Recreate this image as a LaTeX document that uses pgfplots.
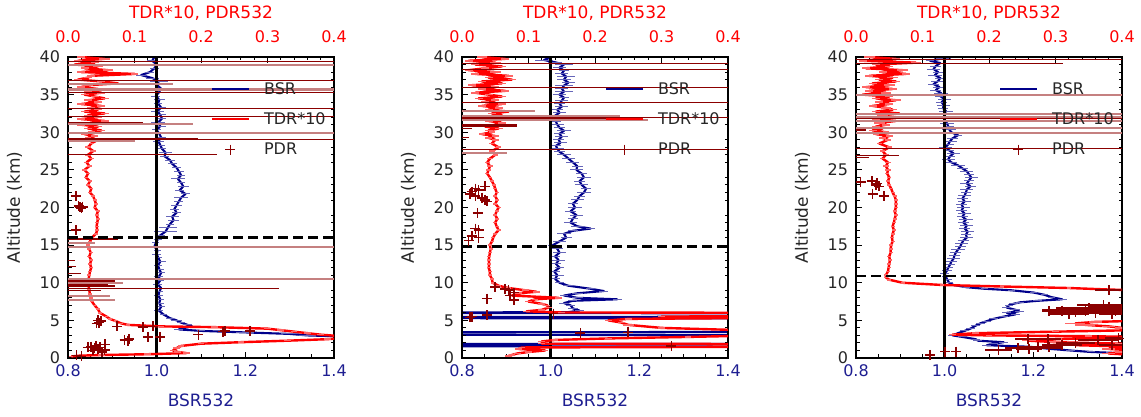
\documentclass[border=0pt]{standalone}
\usepackage{pgfplots}
\pgfplotsset{compat=1.18}
\usepackage{pgfplotstable}
\usepackage{fontspec}
\setmainfont{DejaVu Sans}
\definecolor{bsrblue}{RGB}{0,0,139}
\definecolor{bsrlab}{RGB}{30,30,145}
\definecolor{pdrred}{RGB}{139,0,0}
\definecolor{txt}{RGB}{38,38,38}
\newcommand{\tkfont}{\fontsize{16}{19}\selectfont}

% ---------------- Panel 1 ----------------
\pgfplotstableread[row sep=\\]{
a v e\\
40.0 0.995 0.01\\ 39.5 0.99 0.012\\ 39.0 1.0 0.015\\ 38.5 0.995 0.01\\ 38.0 0.985 0.01\\
37.6 0.965 0.012\\ 37.2 0.99 0.015\\ 36.8 1.005 0.02\\ 36.3 1.0 0.015\\ 35.8 1.01 0.01\\
35.3 1.005 0.015\\ 34.8 0.998 0.01\\ 34.3 1.006 0.012\\ 33.8 1.003 0.01\\ 33.3 1.01 0.01\\
32.8 1.002 0.015\\ 32.3 1.008 0.012\\ 31.8 1.012 0.01\\ 31.3 1.003 0.015\\ 30.8 1.008 0.012\\
30.3 1.0 0.01\\ 29.8 1.006 0.015\\ 29.3 1.01 0.01\\ 28.8 1.004 0.012\\ 28.3 1.008 0.01\\
27.8 1.012 0.01\\ 27.3 1.02 0.015\\ 26.8 1.018 0.01\\ 26.3 1.03 0.012\\ 25.8 1.035 0.01\\
25.3 1.045 0.01\\ 24.8 1.05 0.012\\ 24.3 1.055 0.01\\ 23.8 1.048 0.015\\ 23.3 1.055 0.01\\
22.8 1.06 0.012\\ 22.3 1.052 0.01\\ 21.8 1.065 0.01\\ 21.3 1.055 0.015\\ 20.8 1.05 0.01\\
20.3 1.045 0.012\\ 19.8 1.04 0.01\\ 19.3 1.045 0.01\\ 18.8 1.035 0.015\\ 18.3 1.038 0.012\\
17.8 1.03 0.01\\ 17.3 1.025 0.02\\ 16.8 1.02 0.025\\ 16.3 1.008 0.01\\ 15.8 1.003 0.01\\
15.3 0.998 0.008\\ 14.8 0.995 0.01\\ 14.3 1.002 0.008\\ 13.8 1.0 0.01\\ 13.3 1.004 0.008\\
12.8 1.008 0.012\\ 12.3 1.003 0.008\\ 11.8 1.006 0.01\\ 11.3 1.01 0.008\\ 10.8 1.005 0.01\\
10.3 1.008 0.008\\ 9.8 1.002 0.01\\ 9.3 1.01 0.012\\ 8.8 1.006 0.008\\ 8.3 1.004 0.01\\
7.8 1.008 0.008\\ 7.3 1.006 0.01\\ 6.8 1.01 0.008\\ 6.3 1.005 0.01\\ 5.8 1.015 0.008\\
5.3 1.03 0.01\\ 5.0 1.045 0.012\\ 4.7 1.055 0.01\\ 4.4 1.07 0.01\\ 4.2 1.08 0.01\\
4.0 1.06 0.01\\ 3.8 1.05 0.01\\ 3.6 1.1 0.01\\ 3.4 1.2 0.02\\ 3.2 1.3 0.02\\
3.0 1.34 0.02\\ 2.8 1.45 0.02\\ 2.5 1.6 0\\ 1.0 1.6 0\\ 0.3 1.5 0\\
}\bsrA
\pgfplotstableread[row sep=\\]{
a v e\\
40.0 0.02 0.006\\ 39.75 0.055 0.008\\ 39.5 0.015 0.006\\ 39.25 0.04 0.006\\ 39.0 0.01 0.006\\
38.75 0.045 0.008\\ 38.5 0.025 0.006\\ 38.25 0.06 0.008\\ 38.0 0.02 0.006\\ 37.75 0.1 0.006\\
37.5 0.035 0.006\\ 37.25 0.03 0.006\\ 37.0 0.015 0.006\\ 36.75 0.05 0.006\\ 36.5 0.075 0.006\\
36.25 0.03 0.008\\ 36.0 0.02 0.006\\ 35.75 0.045 0.006\\ 35.5 0.03 0.006\\ 35.25 0.05 0.006\\
35.0 0.025 0.006\\ 34.75 0.04 0.006\\ 34.5 0.055 0.006\\ 34.25 0.03 0.006\\ 34.0 0.045 0.006\\
33.75 0.02 0.006\\ 33.5 0.05 0.006\\ 33.25 0.035 0.006\\ 33.0 0.045 0.006\\ 32.75 0.025 0.006\\
32.5 0.055 0.006\\ 32.25 0.03 0.006\\ 32.0 0.045 0.006\\ 31.75 0.02 0.006\\ 31.5 0.055 0.006\\
31.25 0.035 0.006\\ 31.0 0.02 0.006\\ 30.75 0.045 0.006\\ 30.5 0.03 0.006\\ 30.25 0.05 0.006\\
30.0 0.035 0.005\\ 29.75 0.025 0.005\\ 29.5 0.04 0.005\\ 29.25 0.03 0.005\\ 29.0 0.045 0.005\\
28.5 0.035 0.004\\ 28.0 0.03 0.004\\ 27.5 0.038 0.004\\ 27.0 0.03 0.004\\ 26.5 0.035 0.004\\
26.0 0.028 0.004\\ 25.5 0.032 0.004\\ 25.0 0.025 0.004\\ 24.5 0.03 0.003\\ 24.0 0.027 0.003\\
23.5 0.033 0.003\\ 23.0 0.03 0.003\\ 22.5 0.035 0.003\\ 22.0 0.033 0.003\\ 21.5 0.038 0.003\\
21.0 0.04 0.003\\ 20.5 0.042 0.003\\ 20.0 0.04 0.003\\ 19.5 0.045 0.003\\ 19.0 0.043 0.003\\
18.5 0.045 0.003\\ 18.0 0.044 0.003\\ 17.5 0.043 0.003\\ 17.0 0.044 0.003\\ 16.5 0.042 0.003\\
16.0 0.036 0.003\\ 15.5 0.033 0.003\\ 15.0 0.03 0.003\\ 14.5 0.032 0.003\\ 14.0 0.034 0.003\\
13.5 0.032 0.003\\ 13.0 0.035 0.003\\ 12.5 0.033 0.003\\ 12.0 0.035 0.003\\ 11.5 0.033 0.003\\
11.0 0.032 0.003\\ 10.5 0.031 0.003\\ 10.0 0.03 0.003\\ 9.5 0.031 0.003\\ 9.0 0.032 0.003\\
8.5 0.033 0.003\\ 8.0 0.034 0.003\\ 7.5 0.036 0.003\\ 7.0 0.04 0.003\\ 6.5 0.045 0.003\\
6.0 0.048 0.003\\ 5.5 0.058 0.003\\ 5.2 0.063 0.003\\ 4.9 0.072 0.003\\ 4.6 0.08 0.003\\
4.4 0.09 0.003\\ 4.2 0.14 0.005\\ 4.1 0.22 0.005\\ 3.9 0.3 0.005\\ 3.7 0.32 0.005\\
3.5 0.34 0.005\\ 3.3 0.36 0.005\\ 3.1 0.38 0.005\\ 2.9 0.41 0.005\\ 2.7 0.42 0.005\\
2.5 0.39 0.005\\ 2.3 0.33 0.005\\ 2.1 0.26 0.005\\ 1.9 0.2 0.005\\ 1.6 0.17 0.005\\
1.3 0.163 0.005\\ 1.0 0.158 0.005\\ 0.8 0.165 0.005\\ 0.65 0.178 0.005\\ 0.5 0.12 0.005\\
0.4 0.05 0.005\\ 0.3 0.015 0.003\\ 0.2 0.005 0.003\\
}\tdrA
\pgfplotstableread[row sep=\\]{
a v\\
21.5 0.012\\ 20.2 0.016\\ 19.9 0.02\\ 20.0 0.018\\ 20.1 0.022\\ 17.0 0.012\\
5.0 0.045\\ 4.7 0.047\\ 4.9 0.05\\ 4.6 0.043\\ 4.2 0.074\\ 4.1 0.113\\ 4.2 0.128\\
2.8 0.12\\ 2.8 0.138\\ 3.1 0.196\\ 3.5 0.233\\ 3.6 0.236\\ 3.6 0.274\\
2.4 0.085\\ 2.3 0.09\\ 2.5 0.092\\
1.5 0.035\\ 1.3 0.04\\ 1.0 0.038\\ 1.2 0.045\\ 1.8 0.056\\ 0.8 0.051\\ 1.4 0.03\\ 1.6 0.042\\ 1.1 0.055\\ 1.4 0.048\\
0.35 0.013\\ 0.2 0.02\\
}\pdrA

% ---------------- Panel 2 ----------------
\pgfplotstableread[row sep=\\]{
a v e\\
40.0 1.0 0.015\\ 39.6 0.985 0.02\\ 39.3 1.01 0.015\\ 39.0 1.03 0.02\\ 38.6 1.02 0.015\\
38.2 1.03 0.012\\ 37.8 1.025 0.015\\ 37.4 1.035 0.02\\ 37.0 1.03 0.015\\ 36.6 1.04 0.015\\
36.2 1.03 0.02\\ 35.8 1.025 0.015\\ 35.4 1.03 0.02\\ 35.0 1.02 0.015\\ 34.6 1.03 0.012\\
34.2 1.025 0.015\\ 33.8 1.02 0.012\\ 33.4 1.025 0.015\\ 33.0 1.015 0.012\\ 32.6 1.02 0.015\\
32.2 1.01 0.012\\ 31.8 1.005 0.015\\ 31.4 1.012 0.012\\ 31.0 1.015 0.015\\ 30.6 1.02 0.012\\
30.2 1.03 0.015\\ 29.8 1.02 0.012\\ 29.4 1.025 0.015\\ 29.0 1.018 0.012\\ 28.6 1.022 0.015\\
28.2 1.012 0.012\\ 27.8 1.015 0.015\\ 27.4 1.02 0.012\\ 27.0 1.03 0.015\\ 26.5 1.04 0.015\\
26.0 1.05 0.015\\ 25.5 1.06 0.012\\ 25.0 1.058 0.015\\ 24.5 1.07 0.012\\ 24.0 1.075 0.015\\
23.5 1.065 0.012\\ 23.0 1.07 0.015\\ 22.5 1.08 0.012\\ 22.0 1.075 0.015\\ 21.5 1.065 0.012\\
21.0 1.06 0.015\\ 20.5 1.05 0.012\\ 20.0 1.055 0.015\\ 19.5 1.045 0.012\\ 19.0 1.058 0.015\\
18.5 1.05 0.012\\ 18.0 1.045 0.015\\ 17.5 1.06 0.015\\ 17.2 1.09 0.01\\ 16.9 1.05 0.012\\
16.5 1.03 0.015\\ 16.0 1.035 0.012\\ 15.5 1.02 0.015\\ 15.0 1.005 0.01\\ 14.5 1.015 0.012\\
14.0 1.02 0.015\\ 13.5 1.01 0.012\\ 13.0 1.018 0.015\\ 12.5 1.012 0.012\\ 12.0 1.02 0.01\\
11.5 1.008 0.012\\ 11.0 1.015 0.015\\ 10.5 1.01 0.012\\ 10.0 1.02 0.01\\ 9.6 1.04 0.012\\
9.2 1.09 0.01\\ 8.9 1.12 0.01\\ 8.6 1.06 0.012\\ 8.3 1.03 0.01\\ 8.0 1.06 0.012\\
7.8 1.15 0.01\\ 7.6 1.05 0.01\\ 7.3 1.03 0.012\\ 7.0 1.045 0.01\\ 6.6 1.05 0.012\\
6.3 1.065 0.01\\ 6.1 1.04 0.01\\ 6.0 0.5 0\\ 5.9 2.0 0\\ 5.5 2.0 0\\
5.45 0.5 0\\ 5.3 0.5 0\\ 5.25 2.0 0\\ 3.5 2.0 0\\ 3.4 0.5 0\\
3.1 0.5 0\\ 3.0 2.0 0\\ 1.9 2.0 0\\ 1.85 0.5 0\\ 1.55 0.5 0\\ 1.5 2.0 0\\ 0.0 2.0 0\\
}\bsrB
\pgfplotstableread[row sep=\\]{
a v e\\
40.0 0.03 0.008\\ 39.75 0.065 0.006\\ 39.5 0.01 0.006\\ 39.25 0.05 0.008\\ 39.0 0.02 0.006\\
38.75 0.06 0.006\\ 38.5 0.035 0.006\\ 38.25 0.01 0.006\\ 38.0 0.05 0.008\\ 37.75 0.02 0.006\\
37.5 0.07 0.006\\ 37.25 0.04 0.006\\ 37.0 0.075 0.006\\ 36.75 0.03 0.006\\ 36.5 0.06 0.006\\
36.25 0.015 0.006\\ 36.0 0.05 0.006\\ 35.75 0.03 0.006\\ 35.5 0.065 0.006\\ 35.25 0.02 0.006\\
35.0 0.04 0.006\\ 34.75 0.06 0.006\\ 34.5 0.025 0.006\\ 34.25 0.05 0.006\\ 34.0 0.035 0.006\\
33.75 0.06 0.006\\ 33.5 0.03 0.006\\ 33.25 0.055 0.006\\ 33.0 0.04 0.006\\ 32.75 0.07 0.006\\
32.5 0.045 0.006\\ 32.25 0.06 0.006\\ 32.0 0.035 0.006\\ 31.75 0.07 0.006\\ 31.5 0.04 0.006\\
31.25 0.06 0.006\\ 31.0 0.05 0.006\\ 30.75 0.035 0.006\\ 30.5 0.055 0.006\\ 30.25 0.04 0.006\\
30.0 0.045 0.005\\ 29.75 0.03 0.005\\ 29.5 0.05 0.005\\ 29.25 0.04 0.005\\ 29.0 0.05 0.005\\
28.5 0.045 0.004\\ 28.0 0.055 0.004\\ 27.5 0.045 0.004\\ 27.0 0.05 0.004\\ 26.5 0.042 0.004\\
26.0 0.038 0.004\\ 25.5 0.042 0.004\\ 25.0 0.04 0.004\\ 24.5 0.038 0.003\\ 24.0 0.042 0.003\\
23.5 0.045 0.003\\ 23.0 0.048 0.003\\ 22.5 0.05 0.003\\ 22.0 0.052 0.003\\ 21.5 0.05 0.003\\
21.0 0.053 0.003\\ 20.5 0.05 0.003\\ 20.0 0.055 0.003\\ 19.5 0.052 0.003\\ 19.0 0.05 0.003\\
18.5 0.053 0.003\\ 18.0 0.05 0.003\\ 17.5 0.052 0.003\\ 17.0 0.055 0.003\\ 16.5 0.05 0.003\\
16.0 0.047 0.003\\ 15.5 0.045 0.003\\ 15.0 0.042 0.003\\ 14.5 0.043 0.003\\ 14.0 0.042 0.003\\
13.5 0.041 0.003\\ 13.0 0.04 0.003\\ 12.5 0.041 0.003\\ 12.0 0.04 0.003\\ 11.5 0.042 0.003\\
11.0 0.042 0.003\\ 10.5 0.045 0.003\\ 10.0 0.046 0.003\\ 9.6 0.055 0.004\\ 9.3 0.07 0.004\\
9.0 0.095 0.005\\ 8.8 0.112 0.005\\ 8.6 0.085 0.005\\ 8.3 0.075 0.005\\ 8.0 0.145 0.005\\
7.8 0.11 0.005\\ 7.5 0.1 0.005\\ 7.2 0.12 0.005\\ 7.0 0.128 0.005\\ 6.7 0.13 0.005\\
6.4 0.12 0.005\\ 6.2 0.097 0.005\\ 6.05 0.15 0.005\\ 6.0 0.5 0.005\\ 5.6 0.5 0.005\\
5.5 0.3 0.005\\ 5.35 0.5 0.005\\ 5.2 0.25 0.005\\ 5.0 0.22 0.005\\ 4.7 0.24 0.005\\
4.4 0.25 0.008\\ 4.0 0.3 0.005\\ 3.7 0.42 0.005\\ 3.4 0.5 0.005\\ 3.2 0.5 0.005\\
3.0 0.45 0.005\\ 2.8 0.34 0.005\\ 2.6 0.22 0.005\\ 2.4 0.14 0.005\\ 2.2 0.12 0.005\\
1.9 0.12 0.005\\ 1.85 0.5 0.005\\ 1.5 0.5 0.005\\ 1.4 0.09 0.005\\ 1.2 0.085 0.005\\
1.0 0.125 0.005\\ 0.8 0.1 0.005\\ 0.6 0.083 0.005\\ 0.4 0.075 0.005\\ 0.3 0.07 0.005\\
}\tdrB
\pgfplotstableread[row sep=\\]{
a v\\
22.8 0.035\\ 22.5 0.02\\ 22.3 0.025\\ 22.1 0.015\\ 21.8 0.012\\ 21.5 0.02\\ 21.3 0.03\\
21.0 0.035\\ 20.8 0.0375\\ 19.3 0.0235\\ 17.2 0.02\\ 17.0 0.025\\ 16.2 0.015\\ 16.0 0.025\\ 15.6 0.01\\
9.4 0.05\\ 9.2 0.065\\ 9.0 0.07\\ 8.7 0.078\\ 8.3 0.072\\ 7.9 0.0375\\ 7.7 0.078\\
5.5 0.015\\ 5.4 0.012\\ 5.7 0.0375\\ 5.9 0.1375\\
3.3 0.178\\ 3.4 0.25\\ 1.6 0.315\\
}\pdrB

% ---------------- Panel 3 ----------------
\pgfplotstableread[row sep=\\]{
a v e\\
39.8 0.995 0.02\\ 39.5 0.967 0.01\\ 39.2 0.99 0.015\\ 38.8 0.98 0.012\\ 38.4 0.975 0.015\\
38.0 0.985 0.012\\ 37.6 0.978 0.015\\ 37.2 0.99 0.012\\ 36.8 0.985 0.015\\ 36.4 0.975 0.012\\
36.0 0.988 0.015\\ 35.6 0.98 0.012\\ 35.2 0.992 0.015\\ 34.8 0.99 0.012\\ 34.4 1.0 0.015\\
34.0 0.993 0.012\\ 33.6 0.998 0.015\\ 33.2 0.996 0.012\\ 32.8 1.003 0.015\\ 32.4 0.998 0.012\\
32.0 1.002 0.015\\ 31.6 1.0 0.012\\ 31.2 1.005 0.015\\ 30.8 1.008 0.012\\ 30.4 1.01 0.015\\
30.0 1.015 0.012\\ 29.6 1.03 0.01\\ 29.2 1.018 0.012\\ 28.8 1.012 0.015\\ 28.4 1.008 0.012\\
28.0 1.002 0.015\\ 27.6 1.01 0.012\\ 27.2 1.02 0.015\\ 26.8 1.012 0.012\\ 26.4 1.008 0.015\\
26.0 1.015 0.012\\ 25.6 1.03 0.015\\ 25.2 1.04 0.012\\ 24.8 1.05 0.015\\ 24.4 1.055 0.012\\
24.0 1.06 0.015\\ 23.6 1.055 0.012\\ 23.2 1.05 0.015\\ 22.8 1.058 0.012\\ 22.4 1.05 0.015\\
22.0 1.048 0.012\\ 21.6 1.045 0.015\\ 21.2 1.04 0.012\\ 20.8 1.045 0.015\\ 20.4 1.038 0.012\\
20.0 1.042 0.015\\ 19.6 1.038 0.012\\ 19.2 1.045 0.015\\ 18.8 1.04 0.012\\ 18.4 1.048 0.015\\
18.0 1.042 0.012\\ 17.6 1.05 0.015\\ 17.2 1.045 0.012\\ 16.8 1.052 0.015\\ 16.4 1.048 0.012\\
16.0 1.05 0.015\\ 15.6 1.042 0.012\\ 15.2 1.038 0.015\\ 14.8 1.035 0.012\\ 14.4 1.03 0.015\\
14.0 1.025 0.012\\ 13.6 1.022 0.012\\ 13.2 1.02 0.015\\ 12.8 1.015 0.012\\ 12.4 1.012 0.012\\
12.0 1.008 0.01\\ 11.6 1.005 0.012\\ 11.2 1.0 0.01\\ 10.8 1.003 0.01\\ 10.4 1.006 0.01\\
10.0 1.01 0.008\\ 9.7 1.02 0.008\\ 9.4 1.05 0.008\\ 9.2 1.09 0.008\\ 9.0 1.15 0.008\\
8.7 1.2 0.008\\ 8.4 1.225 0.008\\ 8.1 1.24 0.008\\ 7.8 1.265 0.01\\ 7.6 1.21 0.01\\
7.4 1.17 0.01\\ 7.2 1.155 0.01\\ 7.0 1.145 0.01\\ 6.7 1.14 0.01\\ 6.4 1.16 0.01\\
6.2 1.168 0.01\\ 6.0 1.14 0.01\\ 5.8 1.16 0.01\\ 5.5 1.133 0.01\\ 5.2 1.11 0.01\\
4.9 1.095 0.01\\ 4.6 1.08 0.01\\ 4.3 1.07 0.01\\ 3.9 1.058 0.01\\ 3.6 1.045 0.01\\
3.3 1.03 0.01\\ 3.0 1.018 0.01\\ 2.8 1.04 0.01\\ 2.5 1.07 0.01\\ 2.3 1.075 0.01\\
2.1 1.133 0.01\\ 1.9 1.11 0.01\\ 1.7 1.095 0.01\\ 1.5 1.19 0.01\\ 1.2 1.24 0.01\\
1.0 1.283 0.01\\ 0.8 1.33 0.01\\ 0.7 1.374 0.01\\ 0.5 1.43 0.01\\
}\bsrC
\pgfplotstableread[row sep=\\]{
a v e\\
40.0 0.02 0.008\\ 39.75 0.06 0.006\\ 39.5 0.01 0.006\\ 39.25 0.09 0.008\\ 39.0 0.03 0.006\\
38.75 0.05 0.006\\ 38.5 0.015 0.006\\ 38.25 0.07 0.008\\ 38.0 0.04 0.006\\ 37.75 0.075 0.006\\
37.5 0.02 0.006\\ 37.25 0.055 0.008\\ 37.0 0.035 0.006\\ 36.75 0.06 0.006\\ 36.5 0.025 0.006\\
36.25 0.05 0.008\\ 36.0 0.015 0.006\\ 35.75 0.055 0.006\\ 35.5 0.02 0.006\\ 35.25 0.045 0.008\\
35.0 0.01 0.006\\ 34.75 0.05 0.006\\ 34.5 0.03 0.006\\ 34.25 0.06 0.008\\ 34.0 0.035 0.006\\
33.75 0.05 0.006\\ 33.5 0.025 0.006\\ 33.25 0.045 0.008\\ 33.0 0.055 0.006\\ 32.75 0.03 0.006\\
32.5 0.065 0.006\\ 32.25 0.04 0.008\\ 32.0 0.05 0.006\\ 31.75 0.03 0.006\\ 31.5 0.06 0.006\\
31.25 0.035 0.008\\ 31.0 0.045 0.006\\ 30.75 0.03 0.006\\ 30.5 0.04 0.006\\ 30.25 0.025 0.006\\
30.0 0.045 0.005\\ 29.75 0.03 0.005\\ 29.5 0.05 0.005\\ 29.25 0.04 0.005\\ 29.0 0.048 0.005\\
28.5 0.035 0.004\\ 28.0 0.05 0.004\\ 27.5 0.04 0.004\\ 27.0 0.045 0.004\\ 26.5 0.04 0.004\\
26.0 0.048 0.004\\ 25.5 0.045 0.004\\ 25.0 0.048 0.004\\ 24.5 0.047 0.003\\ 24.0 0.05 0.003\\
23.5 0.048 0.003\\ 23.0 0.05 0.003\\ 22.5 0.053 0.003\\ 22.0 0.055 0.003\\ 21.5 0.058 0.003\\
21.0 0.06 0.003\\ 20.5 0.06 0.003\\ 20.0 0.06 0.003\\ 19.5 0.058 0.003\\ 19.0 0.06 0.003\\
18.5 0.058 0.003\\ 18.0 0.057 0.003\\ 17.5 0.055 0.003\\ 17.0 0.057 0.003\\ 16.5 0.055 0.003\\
16.0 0.054 0.003\\ 15.5 0.055 0.003\\ 15.0 0.053 0.003\\ 14.5 0.052 0.003\\ 14.0 0.052 0.003\\
13.5 0.05 0.003\\ 13.0 0.051 0.003\\ 12.5 0.05 0.003\\ 12.0 0.049 0.003\\ 11.5 0.048 0.003\\
11.0 0.045 0.003\\ 10.7 0.045 0.003\\ 10.4 0.05 0.003\\ 10.0 0.07 0.003\\ 9.7 0.13 0.003\\
9.5 0.22 0.003\\ 9.3 0.32 0.003\\ 9.1 0.38 0.003\\ 9.0 0.42 0.003\\ 8.5 0.5 0.003\\
5.5 0.5 0.003\\ 5.0 0.45 0.01\\ 4.8 0.36 0.01\\ 4.6 0.33 0.015\\ 4.4 0.345 0.015\\
4.2 0.38 0.01\\ 4.0 0.4 0.01\\ 3.7 0.42 0.005\\ 3.5 0.3 0.005\\ 3.3 0.18 0.005\\
3.1 0.145 0.005\\ 3.0 0.2 0.005\\ 2.9 0.35 0.005\\ 2.8 0.42 0.005\\ 2.5 0.3 0.01\\
2.3 0.26 0.01\\ 2.1 0.3 0.01\\ 1.9 0.4 0.01\\ 1.7 0.33 0.01\\ 1.5 0.42 0.01\\
1.2 0.38 0.01\\ 1.0 0.42 0.01\\ 0.8 0.4 0.01\\ 0.6 0.38 0.01\\ 0.4 0.42 0.01\\
}\tdrC
\pgfplotstableread[row sep=\\]{
a v e\\
23.4 0.007 0\\ 23.5 0.024 0\\ 23.0 0.03 0\\ 22.8 0.035 0\\ 23.2 0.032 0\\ 21.8 0.025 0\\ 21.5 0.042 0\\
9.0 0.38 0.02\\
6.2 0.29 0.01\\ 6.3 0.31 0.03\\ 6.1 0.33 0.04\\ 6.2 0.345 0.05\\ 6.0 0.36 0.04\\ 6.5 0.37 0.03\\
6.8 0.38 0.03\\ 7.0 0.372 0.04\\ 6.3 0.39 0.02\\ 5.9 0.385 0.02\\ 6.6 0.35 0.05\\ 5.9 0.32 0.03\\
2.5 0.259 0.02\\ 2.5 0.289 0.02\\ 2.4 0.364 0.03\\ 1.7 0.385 0.02\\ 2.6 0.395 0.02\\
1.06 0.214 0.02\\ 1.3 0.244 0.02\\ 1.5 0.274 0.03\\ 1.4 0.29 0.02\\ 1.7 0.31 0.03\\ 2.0 0.33 0.03\\ 1.2 0.26 0.02\\
0.4 0.111 0\\ 0.85 0.134 0\\ 0.85 0.15 0\\
}\pdrC

\pgfplotsset{
  base/.style={
    scale only axis, width=266pt, height=301pt,
    ymin=0, ymax=40, ytick={0,5,10,15,20,25,30,35,40}, minor y tick num=4,
    tick align=inside, major tick length=6pt, minor tick length=3.5pt,
    every tick/.style={black, line width=0.9pt},
    axis line style={line width=1.8pt},
    /pgf/number format/assume math mode=true,
    every tick label/.append style={font=\tkfont},
    label style={font=\fontsize{17}{20}\selectfont},
  },
  bsraxis/.style={base,
    xmin=0.8, xmax=1.4, xtick={0.8,1.0,1.2,1.4}, minor x tick num=3,
    xtick pos=left, xticklabel pos=left, ytick pos=left, yticklabel pos=left,
    x tick label style={font=\tkfont, bsrlab, yshift=-3pt, /pgf/number format/fixed, /pgf/number format/fixed zerofill, /pgf/number format/precision=1},
    y tick label style={font=\tkfont, txt, xshift=-4.5pt},
    xlabel={BSR532}, xlabel style={bsrlab, at={(axis description cs:0.5,-0.1395)}, anchor=center},
    ylabel={Altitude (km)}, ylabel style={txt, at={(axis description cs:-0.201,0.5)}, anchor=center},
  },
  tdraxis/.style={base,
    xmin=0, xmax=0.4, xtick={0,0.1,0.2,0.3,0.4}, minor x tick num=4,
    xtick pos=right, xticklabel pos=right, ymajorticks=false, yminorticks=false,
    x tick label style={font=\tkfont, red, yshift=11pt, /pgf/number format/fixed, /pgf/number format/fixed zerofill, /pgf/number format/precision=1},
    xlabel={TDR*10, PDR532}, xlabel style={red, at={(axis description cs:0.5,1.146)}, anchor=center},
    legend style={draw=none, fill=none, at={(0.5376,0.917)}, anchor=north west,
      font=\tkfont, text=txt, row sep=17pt, inner sep=0pt, nodes={inner sep=0pt}},
    legend cell align=left,
    legend image code/.code={\draw[mark repeat=2,mark phase=2,##1] plot coordinates {(0pt,0pt) (18pt,0pt) (36.5pt,0pt)}; \path (50.5pt,0pt);},
  },
  bsrline/.style={bsrblue, line width=2.1pt, line join=round,
    error bars/x dir=both, error bars/x explicit, error bars/error mark=none,
    error bars/error bar style={bsrblue!60, line width=1pt}},
  tdrline/.style={red, line width=2.4pt, line join=round,
    error bars/x dir=both, error bars/x explicit, error bars/error mark=none,
    error bars/error bar style={red!60, line width=1.6pt}},
  pdrmark/.style={only marks, mark=+, mark size=5pt, pdrred, mark options={line width=1.6pt}},
  errdark/.style={pdrred, line width=1pt, unbounded coords=jump, forget plot},
  errthick/.style={pdrred, line width=2.5pt, unbounded coords=jump, forget plot},
  errlight/.style={pdrred!50, line width=2pt, unbounded coords=jump, forget plot},
  tropo/.style={black, line width=2.8pt, dash pattern=on 10pt off 5pt, forget plot},
  vline/.style={black, line width=2.6pt, forget plot},
}

\begin{document}
\begin{tikzpicture}
\useasboundingbox (0,0) rectangle (1141pt,417pt);

% ===== Panel 1 =====
\begin{axis}[bsraxis, at={(68pt,59pt)}, anchor=south west]
\addplot[bsrline] table[x=v, y=a, x error=e] {\bsrA};
\addplot[vline] coordinates {(1,0) (1,40)};
\end{axis}
\begin{axis}[tdraxis, at={(68pt,59pt)}, anchor=south west]
\addlegendimage{bsrblue, line width=2.1pt}
\addlegendentry{BSR}
\addplot[tdrline] table[x=v, y=a, x error=e] {\tdrA};
\addlegendentry{TDR*10}
\addplot[errdark] coordinates {(0,39.35)(0.4,39.35) (nan,nan) (0,36.85)(0.4,36.85) (nan,nan) (0,35.25)(0.4,35.25) (nan,nan) (0,33.15)(0.4,33.15) (nan,nan) (0,32.15)(0.4,32.15) (nan,nan) (0,29.05)(0.4,29.05) (nan,nan) (0,27.1)(0.224,27.1) (nan,nan) (0,9.3)(0.318,9.3) (nan,nan) (0,9.0)(0.05,9.0) (nan,nan) (0,13.0)(0.01,13.0) (nan,nan) (0,12.2)(0.012,12.2) (nan,nan) (0,11.2)(0.02,11.2)};
\addplot[errthick] coordinates {(0,31.2)(0.113,31.2) (nan,nan) (0,29.1)(0.195,29.1) (nan,nan) (0,15.8)(0.075,15.8) (nan,nan) (0,10.2)(0.07,10.2) (nan,nan) (0,9.8)(0.06,9.8) (nan,nan) (0,9.6)(0.07,9.6)};
\addplot[errlight] coordinates {(0,38.9)(0.4,38.9) (nan,nan) (0,36.45)(0.158,36.45) (nan,nan) (0,35.75)(0.4,35.75) (nan,nan) (0,35.55)(0.4,35.55) (nan,nan) (0,29.9)(0.4,29.9) (nan,nan) (0,14.7)(0.4,14.7) (nan,nan) (0,10.5)(0.4,10.5) (nan,nan) (0,31.05)(0.188,31.05) (nan,nan) (0,9.95)(0.083,9.95) (nan,nan) (0,8.2)(0.063,8.2) (nan,nan) (0,7.7)(0.07,7.7) (nan,nan) (0,15.3)(0.04,15.3) (nan,nan) (0,28.8)(0.1,28.8)};
\addplot[pdrmark] table[x=v, y=a] {\pdrA};
\addlegendentry{PDR}
\addplot[tropo] coordinates {(0,16.0) (0.4,16.0)};
\end{axis}

% ===== Panel 2 =====
\begin{axis}[bsraxis, at={(462pt,59pt)}, anchor=south west]
\addplot[bsrline] table[x=v, y=a, x error=e] {\bsrB};
\addplot[vline] coordinates {(1,0) (1,40)};
\end{axis}
\begin{axis}[tdraxis, at={(462pt,59pt)}, anchor=south west]
\addlegendimage{bsrblue, line width=2.1pt}
\addlegendentry{BSR}
\addplot[tdrline] table[x=v, y=a, x error=e] {\tdrB};
\addlegendentry{TDR*10}
\addplot[errdark] coordinates {(0,39.2)(0.4,39.2) (nan,nan) (0,38.4)(0.4,38.4) (nan,nan) (0,35.9)(0.4,35.9) (nan,nan) (0,33.9)(0.4,33.9) (nan,nan) (0,32.0)(0.4,32.0) (nan,nan) (0,27.7)(0.4,27.7) (nan,nan) (0,29.3)(0.01,29.3) (nan,nan) (0,30.5)(0.015,30.5)};
\addplot[errthick] coordinates {(0,31.8)(0.265,31.8) (nan,nan) (0,30.9)(0.0825,30.9)};
\addplot[errlight] coordinates {(0,32.8)(0.11,32.8) (nan,nan) (0,32.2)(0.2375,32.2) (nan,nan) (0,31.6)(0.28,31.6) (nan,nan) (0,27.2)(0.0675,27.2)};
\addplot[pdrmark] table[x=v, y=a] {\pdrB};
\addlegendentry{PDR}
\addplot[tropo] coordinates {(0,14.8) (0.4,14.8)};
\end{axis}

% ===== Panel 3 =====
\begin{axis}[bsraxis, at={(856pt,59pt)}, anchor=south west]
\addplot[bsrline] table[x=v, y=a, x error=e] {\bsrC};
\addplot[vline] coordinates {(1,0) (1,40)};
\end{axis}
\begin{axis}[tdraxis, at={(856pt,59pt)}, anchor=south west]
\addlegendimage{bsrblue, line width=2.1pt}
\addlegendentry{BSR}
\addplot[tdrline] table[x=v, y=a, x error=e] {\tdrC};
\addlegendentry{TDR*10}
\addplot[errdark] coordinates {(0,39.65)(0.4,39.65) (nan,nan) (0,31.8)(0.4,31.8) (nan,nan) (0,27.9)(0.4,27.9) (nan,nan) (0,39.2)(0.311,39.2) (nan,nan) (0,26.9)(0.064,26.9) (nan,nan) (0,26.6)(0.02,26.6)};
\addplot[errthick] coordinates {(0,30.3)(0.015,30.3)};
\addplot[errlight] coordinates {(0,35.0)(0.4,35.0) (nan,nan) (0,32.4)(0.4,32.4) (nan,nan) (0,32.0)(0.4,32.0) (nan,nan) (0,31.5)(0.4,31.5) (nan,nan) (0,30.5)(0.4,30.5) (nan,nan) (0,29.9)(0.4,29.9)};
\addplot[pdrmark, error bars/x dir=both, error bars/x explicit, error bars/error mark=none, error bars/error bar style={pdrred, line width=2.2pt}] table[x=v, y=a, x error=e] {\pdrC};
\addlegendentry{PDR}
\addplot[tropo] coordinates {(0,10.9) (0.4,10.9)};
\end{axis}
\end{tikzpicture}
\end{document}
